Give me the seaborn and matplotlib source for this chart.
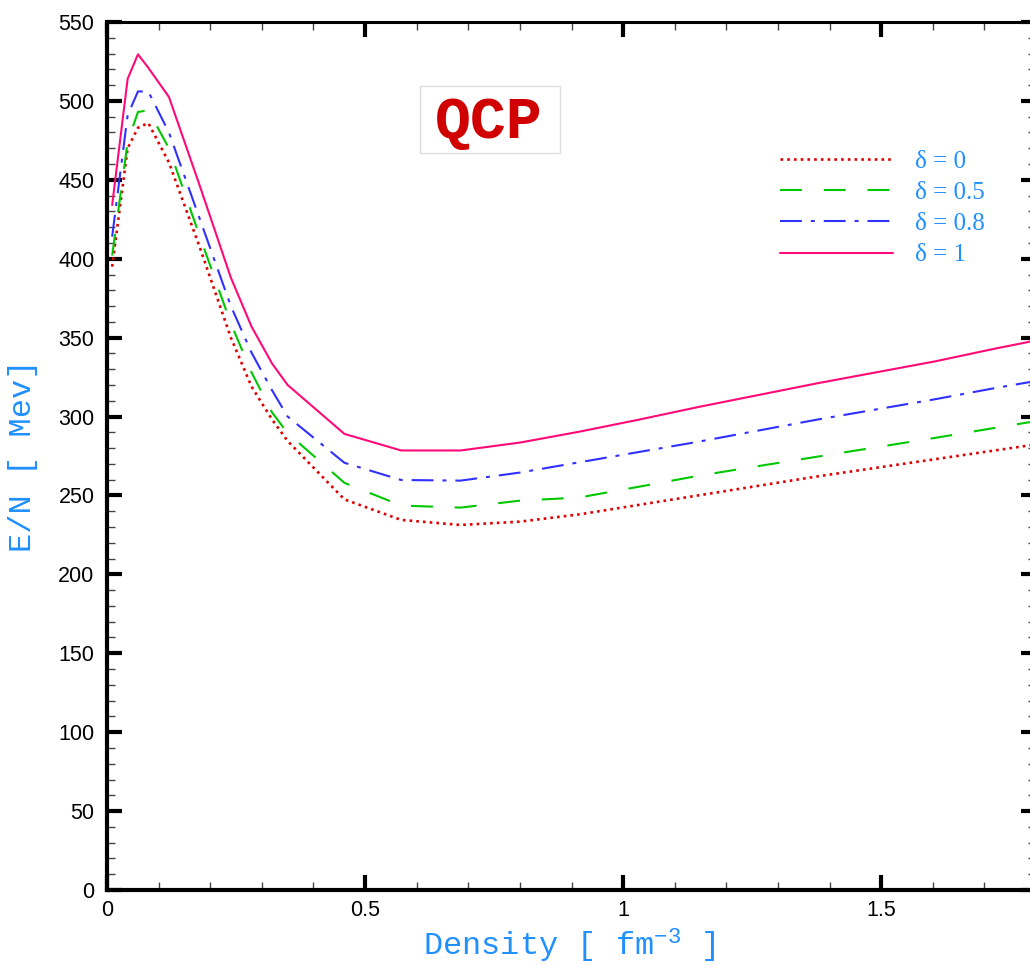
import numpy as np
import pandas as pd
import matplotlib
matplotlib.use("Agg")
import matplotlib.pyplot as plt
from matplotlib.ticker import MultipleLocator
from matplotlib.patches import Rectangle
import seaborn as sns

# ---- data ----
density = [0.01, 0.04, 0.06, 0.08, 0.12, 0.18, 0.24, 0.28, 0.32, 0.35, 0.46, 0.57,
           0.685, 0.80, 0.915, 1.03, 1.145, 1.26, 1.375, 1.49, 1.605, 1.72, 1.835]
en_d0 = [395, 470, 483, 486, 461, 407, 350, 319, 298, 284.5, 247.5, 234.5,
         231.3, 233.4, 238, 244, 250, 256, 262, 267.5, 273, 278.5, 284]
en_d05 = [402, 474, 493, 494, 470, 414, 359, 328, 302.5, 289.5, 258, 243.6,
          242.3, 246.7, 248.7, 255.5, 262.4, 268.5, 274.5, 280.5, 286.5, 292.8, 299]
en_d08 = [414, 491, 506, 506, 480, 425, 370, 340.5, 316.5, 300, 270.7, 259.8,
          259.4, 264.5, 271, 277.5, 284, 291, 298, 304.5, 311, 318, 324.5]
en_d1 = [434, 514, 529.5, 521, 502.5, 446, 388, 357, 333.5, 320, 289, 278.5,
         278.5, 283.5, 290.4, 298, 306, 313.5, 321, 328, 335, 343, 350.5]
labels = ["\u03b4 = 0", "\u03b4 = 0.5", "\u03b4 = 0.8", "\u03b4 = 1"]
xticks = [0, 0.5, 1, 1.5]
yticks = list(range(0, 551, 50))

series = [en_d0, en_d05, en_d08, en_d1]
colors = ["#E00000", "#00C800", "#3030FF", "#FF0A78"]
widths = [1.9, 1.5, 1.5, 1.5]
dash_styles = [(0, (1.0, 1.55)), (0, (10.5, 10.5)), (0, (10.5, 4.3, 1.9, 4.3)), "-"]

sns.set_style("ticks")
plt.rcParams["font.family"] = ["Liberation Sans", "DejaVu Sans"]
plt.rcParams["mathtext.fontset"] = "custom"
plt.rcParams["mathtext.rm"] = "Liberation Mono"
plt.rcParams["mathtext.it"] = "Liberation Mono"
plt.rcParams["mathtext.default"] = "rm"

fig = plt.figure(figsize=(10.30, 9.65), dpi=100)
W, H = 1030, 965
ax = fig.add_axes([107 / W, (H - 890) / H, (1036 - 107) / W, (890 - 22) / H])
AW, AH = 929.0, 868.0

rows = []
for lab, vals in zip(labels, series):
    for xv, yv in zip(density, vals):
        rows.append({"density": xv, "en": yv, "delta": lab})
df = pd.DataFrame(rows)

for lab, col, lw, ls in zip(labels, colors, widths, dash_styles):
    sub = df[df["delta"] == lab]
    sns.lineplot(data=sub, x="density", y="en", ax=ax, color=col, label=lab,
                 linewidth=lw, estimator=None, sort=False)
    ax.lines[-1].set_linestyle(ls)

ax.set_xlim(0, 1.8)
ax.set_ylim(0, 550)
ax.set_xticks(xticks)
ax.set_xticklabels([("%g" % t) for t in xticks])
ax.set_yticks(yticks)
ax.xaxis.set_minor_locator(MultipleLocator(0.1))
ax.yaxis.set_minor_locator(MultipleLocator(10))
ax.tick_params(which="major", direction="in", length=11, width=3, color="black",
               top=True, right=True, labelsize=15.5, pad=7, labelcolor="black")
ax.tick_params(which="minor", direction="in", length=6, width=1, color="#444444",
               top=True, right=True)
ax.tick_params(axis="y", which="major", pad=9)

for side in ["left", "bottom"]:
    ax.spines[side].set_linewidth(3)
    ax.spines[side].set_color("black")
for side in ["top", "right"]:
    ax.spines[side].set_visible(True)
    ax.spines[side].set_linewidth(2.2)
    ax.spines[side].set_color("black")

label_color = "#2090FF"
ax.set_xlabel("Density [ fm$^{-3}$ ]", fontsize=23, color=label_color,
              family="Liberation Mono")
ax.set_ylabel("E/N [ Mev]", fontsize=23, color=label_color, family="Liberation Mono")
ax.xaxis.set_label_coords(0.498, -(927 - 890) / AH)
ax.yaxis.set_label_coords((38 - 107) / AW, 0.5)

leg = ax.legend(loc="upper left", bbox_to_anchor=((780 - 107) / AW, (890 - 150) / AH),
                frameon=False, prop={"family": "Liberation Serif", "size": 18},
                handlelength=4.5, handletextpad=0.9, labelspacing=0.35,
                borderaxespad=0, borderpad=0)
for t in leg.get_texts():
    t.set_color(label_color)

# QCP label box
ax.add_patch(Rectangle(((420 - 107) / AW, (890 - 153) / AH), 140 / AW, 67 / AH,
                       transform=ax.transAxes, facecolor="white", edgecolor="#DDDDDD",
                       linewidth=1, zorder=3))
ax.text((489 - 107) / AW, (890 - 122) / AH, "QCP", transform=ax.transAxes,
        ha="center", va="center", fontsize=43, fontweight="bold", color="#D00000",
        family="Liberation Mono", zorder=4)

fig.savefig("out.png", dpi=100)
